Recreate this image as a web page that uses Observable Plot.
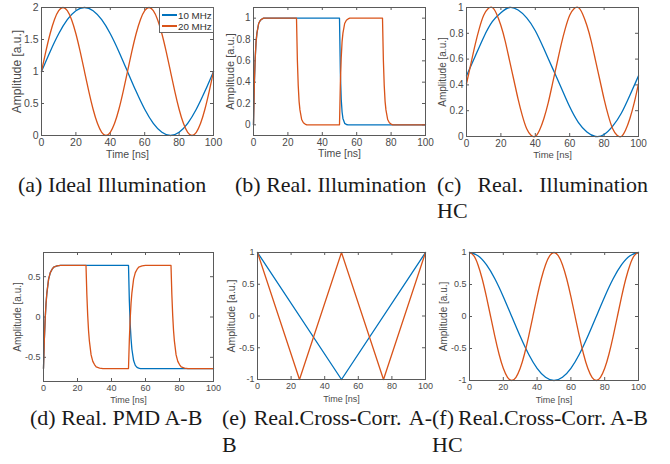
<!DOCTYPE html>
<html><head><meta charset="utf-8">
<script src="https://cdn.jsdelivr.net/npm/d3@7"></script>
<script src="https://cdn.jsdelivr.net/npm/@observablehq/plot@0.6"></script>
<style>
body{margin:0;background:#fff;}
#fig{position:relative;width:670px;height:464px;overflow:hidden;background:#fff;}
.cap{position:absolute;font-family:"Liberation Serif","Times New Roman",serif;font-size:22px;color:#1a1a1a;white-space:nowrap;line-height:22px;}
.just{display:flex;justify-content:space-between;}
.legend{position:absolute;box-sizing:border-box;border:1px solid #666;background:#fff;font-family:"Liberation Sans",Arial,sans-serif;font-size:9.8px;color:#333;white-space:nowrap;}
.legend .row{position:absolute;left:0;height:12px;display:flex;align-items:center;white-space:nowrap;}
.legend .sw{display:inline-block;width:15px;height:1.4px;margin-left:2px;margin-right:1px;flex:none;}
</style></head><body><div id="fig"></div>
<script>
// ---- data ----
const xTicks = [0,20,40,60,80,100];
const t5 = [0,5,10,15,20,25,30,35,40,45,50,55,60,65,70,75,80,85,90,95,100];
const t25 = [0,2.5,5,7.5,10,12.5,15,17.5,20,22.5,25,27.5,30,32.5,35,37.5,40,42.5,45,47.5,50,52.5,55,57.5,60,62.5,65,67.5,70,72.5,75,77.5,80,82.5,85,87.5,90,92.5,95,97.5,100];

// (a) Ideal Illumination
const aBlue = [1,1.31,1.59,1.81,1.95,2,1.95,1.81,1.59,1.31,1,0.69,0.41,0.19,0.05,0,0.05,0.19,0.41,0.69,1];
const aOrange = [1,1.31,1.59,1.81,1.95,2,1.95,1.81,1.59,1.31,1,0.69,0.41,0.19,0.05,0,0.05,0.19,0.41,0.69,1,1.31,1.59,1.81,1.95,2,1.95,1.81,1.59,1.31,1,0.69,0.41,0.19,0.05,0,0.05,0.19,0.41,0.69,1];

// (b) Real. Illumination
const bBlueT = [0,0.5,1,1.5,2,3,4,5,6,50,50.5,51,51.5,52,53,54,55,100];
const bBlue = [0,0.39,0.63,0.78,0.86,0.95,0.98,0.993,1,1,0.49,0.24,0.12,0.06,0.014,0.003,0,0];
const bOrangeT = [0,0.5,1,1.5,2,3,4,5,6,25,25.5,26,26.5,27,28,29,30,31,50,50.5,51,51.5,52,53,54,55,56,75,75.5,76,76.5,77,78,79,80,81,100];
const bOrange = [0,0.39,0.63,0.78,0.86,0.95,0.98,0.993,1,1,0.61,0.37,0.22,0.14,0.05,0.02,0.007,0,0,0.39,0.63,0.78,0.86,0.95,0.98,0.993,1,1,0.61,0.37,0.22,0.14,0.05,0.02,0.007,0,0];

// (c) Real. Illumination HC
const cBlue = [0.47,0.62,0.77,0.89,0.96,1.00,0.98,0.92,0.82,0.68,0.53,0.38,0.23,0.11,0.035,0.00,0.015,0.08,0.18,0.32,0.47];
const cOrange = [0.41,0.56,0.71,0.84,0.94,0.99,1.00,0.95,0.86,0.74,0.59,0.44,0.29,0.16,0.06,0.01,0.00,0.05,0.14,0.26,0.41,0.56,0.71,0.84,0.94,0.99,1.00,0.95,0.86,0.74,0.59,0.44,0.29,0.16,0.06,0.01,0.00,0.05,0.14,0.26,0.41];

// (d) Real. PMD A-B
const dBlueT = [0,0.5,1,1.5,2,3,4,5,6,8,10,50,50.5,51,51.5,52,53,54,55,56,57,100];
const dBlue = [-0.64,-0.28,-0.02,0.17,0.30,0.47,0.55,0.59,0.62,0.634,0.64,0.64,0.20,-0.09,-0.27,-0.40,-0.54,-0.60,-0.625,-0.635,-0.64,-0.64];
const dOrangeT = [0,0.5,1,1.5,2,3,4,5,6,8,10,25,25.5,26,26.5,27,28,29,30,31,33,35,50,50.5,51,51.5,52,53,54,55,56,58,60,75,75.5,76,76.5,77,78,79,80,81,83,85,100];
const dOrange = [-0.64,-0.28,-0.02,0.17,0.30,0.47,0.55,0.59,0.62,0.634,0.64,0.64,0.28,0.02,-0.17,-0.30,-0.47,-0.55,-0.59,-0.62,-0.634,-0.64,-0.64,-0.28,-0.02,0.17,0.30,0.47,0.55,0.59,0.62,0.634,0.64,0.64,0.28,0.02,-0.17,-0.30,-0.47,-0.55,-0.59,-0.62,-0.634,-0.64,-0.64];

// (e) Real.Cross-Corr. A-B
const eBlueT = [0,50,100];
const eBlue = [1,-1,1];
const eOrangeT = [0,25,50,75,100];
const eOrange = [1,-1,1,-1,1];

// (f) Real.Cross-Corr. A-B HC
const fBlue = [1,0.95,0.81,0.59,0.31,0,-0.31,-0.59,-0.81,-0.95,-1,-0.95,-0.81,-0.59,-0.31,0,0.31,0.59,0.81,0.95,1];
const fOrange = [1,0.95,0.81,0.59,0.31,0,-0.31,-0.59,-0.81,-0.95,-1,-0.95,-0.81,-0.59,-0.31,0,0.31,0.59,0.81,0.95,1,0.95,0.81,0.59,0.31,0,-0.31,-0.59,-0.81,-0.95,-1,-0.95,-0.81,-0.59,-0.31,0,0.31,0.59,0.81,0.95,1];

const legendLabels = ["10 MHz","20 MHz"];
const xLabel = "Time [ns]";
const yLabel = "Amplitude [a.u.]";

// ---- drawing ----
const AX = "#5a5a5a", TXT = "#4a4a4a", BLUE = "#0072BD", ORANGE = "#D95319";
const fig = document.getElementById("fig");

function panel(cfg){
  const ml = 46, mr = 10, mt = 8, mb = 34;
  const W = cfg.R - cfg.L, H = cfg.B - cfg.T;
  const lines = cfg.series.map(s => {
    const data = s.t.map((t,i) => ({t, v: s.v[i]}));
    return Plot.line(data, {x: "t", y: "v", stroke: s.color, strokeWidth: 1.3, curve: s.curve || "linear"});
  });
  const svg = Plot.plot({
    width: W + ml + mr, height: H + mt + mb,
    marginLeft: ml, marginRight: mr, marginTop: mt, marginBottom: mb,
    x: {domain: [0,100]},
    y: {domain: cfg.yDomain},
    style: {fontFamily: "'Liberation Sans', Arial, sans-serif", color: TXT, background: "transparent", overflow: "visible"},
    marks: [
      Plot.axisX(xTicks, {tickSize: 0, tickPadding: 3, fontSize: cfg.tickFs, tickFormat: d => String(d), label: null, fill: TXT}),
      Plot.axisY(cfg.yTicks, {tickSize: 0, tickPadding: 3, fontSize: cfg.tickFs, tickFormat: d => String(d), label: null, fill: TXT}),
      Plot.tickX(xTicks, {x: d => d, stroke: AX, insetTop: H - 3}),
      Plot.tickX(xTicks, {x: d => d, stroke: AX, insetBottom: H - 3}),
      Plot.tickY(cfg.yTicks, {y: d => d, stroke: AX, insetRight: W - 3}),
      Plot.tickY(cfg.yTicks, {y: d => d, stroke: AX, insetLeft: W - 3}),
      ...lines,
      Plot.frame({stroke: AX}),
      Plot.text([xLabel], {text: d => d, frameAnchor: "bottom", dy: cfg.xlDy, fontSize: cfg.xlFs, fill: TXT}),
      Plot.text([yLabel], {text: d => d, frameAnchor: "left", textAnchor: "middle", dx: -cfg.ylDx, rotate: -90, fontSize: cfg.ylFs, fill: TXT})
    ]
  });
  svg.style.position = "absolute";
  svg.style.left = (cfg.L - ml) + "px";
  svg.style.top = (cfg.T - mt) + "px";
  fig.appendChild(svg);
}

panel({L:41, R:213, T:7, B:135, yDomain:[0,2], yTicks:[0,0.5,1,1.5,2], tickFs:10.5, xlFs:10.5, xlDy:22, ylFs:12, ylDx:24,
  series:[{t:t5, v:aBlue, color:BLUE, curve:"natural"},{t:t25, v:aOrange, color:ORANGE, curve:"natural"}]});
panel({L:253, R:425, T:7, B:135, yDomain:[-0.1,1.1], yTicks:[0,0.2,0.4,0.6,0.8,1], tickFs:10, xlFs:10.5, xlDy:21, ylFs:11, ylDx:23,
  series:[{t:bBlueT, v:bBlue, color:BLUE},{t:bOrangeT, v:bOrange, color:ORANGE}]});
panel({L:466, R:638, T:7, B:136, yDomain:[0,1], yTicks:[0,0.2,0.4,0.6,0.8,1], tickFs:10, xlFs:9.5, xlDy:21, ylFs:10, ylDx:24,
  series:[{t:t5, v:cBlue, color:BLUE, curve:"natural"},{t:t25, v:cOrange, color:ORANGE, curve:"natural"}]});
panel({L:43, R:213, T:252, B:381, yDomain:[-0.8,0.8], yTicks:[-0.5,0,0.5], tickFs:9, xlFs:9, xlDy:21, ylFs:10, ylDx:26,
  series:[{t:dBlueT, v:dBlue, color:BLUE},{t:dOrangeT, v:dOrange, color:ORANGE}]});
panel({L:257, R:425, T:252, B:379, yDomain:[-1,1], yTicks:[-1,-0.5,0,0.5,1], tickFs:9, xlFs:9, xlDy:22, ylFs:10.5, ylDx:26,
  series:[{t:eBlueT, v:eBlue, color:BLUE},{t:eOrangeT, v:eOrange, color:ORANGE}]});
panel({L:469, R:638, T:252, B:380, yDomain:[-1,1], yTicks:[-1,-0.5,0,0.5,1], tickFs:9, xlFs:9, xlDy:22, ylFs:10, ylDx:26,
  series:[{t:t5, v:fBlue, color:BLUE, curve:"natural"},{t:t25, v:fOrange, color:ORANGE, curve:"natural"}]});

// legend (panel a)
const leg = document.createElement("div");
leg.className = "legend";
Object.assign(leg.style, {left: "159px", top: "7px", width: "55px", height: "26px"});
[BLUE, ORANGE].forEach((c, i) => {
  const row = document.createElement("div");
  row.className = "row";
  row.style.top = (1 + i * 11) + "px";
  const sw = document.createElement("span"); sw.className = "sw"; sw.style.background = c;
  const tx = document.createElement("span"); tx.textContent = legendLabels[i];
  row.appendChild(sw); row.appendChild(tx);
  leg.appendChild(row);
});
fig.appendChild(leg);

// captions
function cap(words, left, baseline, width){
  const d = document.createElement("div");
  d.className = "cap" + (width ? " just" : "");
  d.style.left = left + "px";
  d.style.top = (baseline - 17) + "px";
  if (width) {
    d.style.width = width + "px";
    words.forEach(w => { const s = document.createElement("span"); s.textContent = w; d.appendChild(s); });
  } else {
    d.textContent = words.join(" ");
  }
  fig.appendChild(d);
}
cap(["(a)","Ideal","Illumination"], 18, 191);
cap(["(b)","Real.","Illumination"], 235, 191);
cap(["(c)","Real.","Illumination"], 437, 191, 211);
cap(["HC"], 437, 217);
cap(["(d)","Real.","PMD","A-B"], 30, 424);
cap(["(e)","Real.Cross-Corr.","A-"], 222, 424, 210);
cap(["B"], 222, 451);
cap(["(f)","Real.Cross-Corr.","A-B"], 432, 424, 216);
cap(["HC"], 432, 451);
</script></body></html>
